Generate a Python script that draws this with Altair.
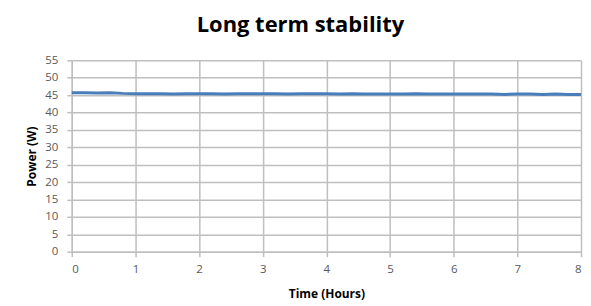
import altair as alt
import pandas as pd

hours = [0.0, 0.2, 0.4, 0.6, 0.8, 1.0, 1.2, 1.4, 1.6, 1.8, 2.0, 2.2, 2.4, 2.6, 2.8,
         3.0, 3.2, 3.4, 3.6, 3.8, 4.0, 4.2, 4.4, 4.6, 4.8, 5.0, 5.2, 5.4, 5.6, 5.8,
         6.0, 6.2, 6.4, 6.6, 6.8, 7.0, 7.2, 7.4, 7.6, 7.8, 8.0]
power = [45.7, 45.7, 45.6, 45.7, 45.5, 45.4, 45.4, 45.4, 45.3, 45.4, 45.4, 45.4, 45.3, 45.4, 45.4,
         45.4, 45.4, 45.3, 45.4, 45.4, 45.4, 45.3, 45.4, 45.3, 45.3, 45.3, 45.3, 45.4, 45.3, 45.3,
         45.3, 45.3, 45.3, 45.3, 45.2, 45.3, 45.3, 45.2, 45.3, 45.2, 45.2]

df = pd.DataFrame({"t": hours, "p": power})

FONT = "Open Sans"

chart = alt.Chart(df).mark_line(color="#4a7ebb", strokeWidth=3).encode(
    x=alt.X("t:Q", scale=alt.Scale(domain=[0, 8], nice=False),
            axis=alt.Axis(title="Time (Hours)", values=list(range(0, 9)), format="d",
                          titleY=42, titleBaseline="middle", labelPadding=7)),
    y=alt.Y("p:Q", scale=alt.Scale(domain=[0, 55], nice=False),
            axis=alt.Axis(title="Power (W)", values=list(range(0, 56, 5)),
                          titleX=-40, titleY=96, titleBaseline="middle", titleAlign="center",
                          labelPadding=9)),
).properties(
    width=511, height=192,
    title=alt.TitleParams("Long term stability", fontSize=22, font=FONT, fontWeight="bold",
                          color="#000000", anchor="middle", dx=-26, baseline="alphabetic", offset=0),
    autosize=alt.AutoSizeParams(type="none"),
    padding={"left": 64, "top": 52, "right": 2, "bottom": 50},
    background="#ffffff",
).configure_axis(
    labelFont=FONT, labelFontSize=11.5, labelColor="#595959",
    titleFont=FONT, titleFontSize=12, titleFontWeight="bold", titleColor="#000000",
    gridColor="#bfbfbf", gridWidth=1.5, domainColor="#bfbfbf", domainWidth=1.5,
    tickColor="#bfbfbf", tickWidth=1.5, tickSize=5,
).configure_view(strokeWidth=0)

chart.save("out.html", embed_options={"renderer": "svg", "actions": False})
